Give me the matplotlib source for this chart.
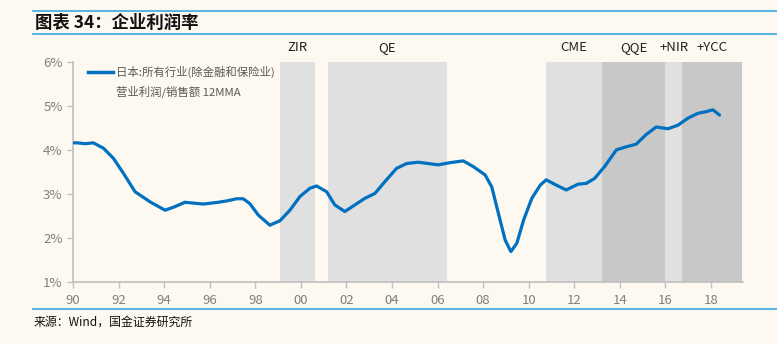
import matplotlib
matplotlib.use("Agg")
import matplotlib.pyplot as plt
from matplotlib.lines import Line2D

plt.rcParams["font.family"] = ["Noto Sans CJK SC", "DejaVu Sans"]

# (year fraction, % margin)
years = [1990.05, 1990.19, 1990.53, 1990.89, 1991.33, 1991.77, 1992.21, 1992.72,
         1993.38, 1994.04, 1994.47, 1994.91, 1995.72, 1996.37, 1996.74, 1997.18,
         1997.47, 1997.76, 1998.13, 1998.64, 1999.08, 1999.52, 1999.96, 2000.4,
         2000.69, 2001.13, 2001.49, 2001.93, 2002.37, 2002.81, 2003.25, 2003.69,
         2004.2, 2004.64, 2005.15, 2005.59, 2006.03, 2006.55, 2007.13, 2007.57,
         2008.09, 2008.38, 2008.67, 2008.97, 2009.22, 2009.48, 2009.78, 2010.14,
         2010.51, 2010.77, 2011.21, 2011.65, 2012.16, 2012.53, 2012.89, 2013.33,
         2013.85, 2014.28, 2014.72, 2015.16, 2015.6, 2016.11, 2016.55, 2016.99,
         2017.43, 2017.8, 2018.09, 2018.38]
margin = [4.17, 4.17, 4.15, 4.17, 4.05, 3.82, 3.48, 3.06,
          2.83, 2.64, 2.72, 2.82, 2.78, 2.82, 2.85, 2.90,
          2.90, 2.79, 2.53, 2.30, 2.40, 2.64, 2.95, 3.14,
          3.19, 3.06, 2.76, 2.61, 2.76, 2.91, 3.02, 3.29,
          3.59, 3.70, 3.73, 3.70, 3.67, 3.72, 3.76, 3.63,
          3.44, 3.17, 2.57, 1.96, 1.70, 1.89, 2.42, 2.91,
          3.21, 3.33, 3.21, 3.10, 3.23, 3.25, 3.36, 3.63,
          4.01, 4.08, 4.14, 4.36, 4.53, 4.49, 4.57, 4.73,
          4.84, 4.88, 4.92, 4.80]

# policy regimes
regime_names = ["ZIR", "QE", "CME", "QQE", "+NIR", "+YCC"]
regime_start = [1999.1, 2001.2, 2010.75, 2013.2, 2016.0, 2016.75]
regime_end = [2000.6, 2006.4, 2013.2, 2016.0, 2016.75, 2019.35]
regime_dark = [False, False, False, True, False, True]

xtick_years = list(range(1990, 2019, 2))
xtick_labels = [f"{y % 100:02d}" for y in xtick_years]
yticks = [1, 2, 3, 4, 5, 6]

bg = "#FDF9F0"
grey_txt = "#7F7F7F"
fig = plt.figure(figsize=(7.77, 3.44), dpi=100, facecolor=bg)
ax = fig.add_axes([0.094, 0.179, 0.862, 0.640], facecolor=bg)

for name, s, e, dark in zip(regime_names, regime_start, regime_end, regime_dark):
    ax.axvspan(s, e, color="#C8C8C8" if dark else "#E0E0E0", lw=0, zorder=0)
    ax.text((s + e) / 2, 6.18, name, ha="center", va="bottom", fontsize=9.5,
            color="#222222")

ax.plot(years, margin, color="#0070C0", lw=2.3, solid_capstyle="round",
        solid_joinstyle="round", zorder=3)

ax.set_xlim(1990, 2019.4)
ax.set_ylim(1, 6)
ax.set_xticks(xtick_years)
ax.set_xticklabels(xtick_labels)
ax.set_yticks(yticks)
ax.set_yticklabels([f"{v}%" for v in yticks])
ax.tick_params(colors="#BFBFBF", labelcolor=grey_txt, labelsize=9.5,
               length=4, width=1)
ax.tick_params(axis="x", pad=4)
for side in ["top", "right"]:
    ax.spines[side].set_visible(False)
for side in ["left", "bottom"]:
    ax.spines[side].set_color("#BFBFBF")
    ax.spines[side].set_linewidth(1.2)

# legend
ax.add_line(Line2D([0.023, 0.06], [0.955, 0.955], transform=ax.transAxes,
                   color="#0070C0", lw=2.5))
ax.text(0.064, 0.955, "日本:所有行业(除金融和保险业)", transform=ax.transAxes,
        ha="left", va="center", fontsize=8.2, color="#595959")
ax.text(0.064, 0.865, "营业利润/销售额 12MMA", transform=ax.transAxes,
        ha="left", va="center", fontsize=8.2, color="#595959")

# title band and footer
line_col = "#3AA8E0"
fig.add_artist(Line2D([33 / 777, 1], [1 - 11 / 344] * 2, color=line_col, lw=1.2))
fig.add_artist(Line2D([33 / 777, 1], [1 - 34 / 344] * 2, color=line_col, lw=1.2))
fig.add_artist(Line2D([33 / 777, 1], [1 - 309 / 344] * 2, color=line_col, lw=1.2))
fig.text(35 / 777, 1 - 22.5 / 344, "图表 34：企业利润率", ha="left", va="center",
         fontsize=12.5, fontweight="bold", style="italic", color="#111111")
fig.text(34 / 777, 1 - 322 / 344, "来源：Wind，国金证券研究所", ha="left",
         va="center", fontsize=8.6, color="#111111")

fig.savefig("out.png", dpi=100, facecolor=bg)
